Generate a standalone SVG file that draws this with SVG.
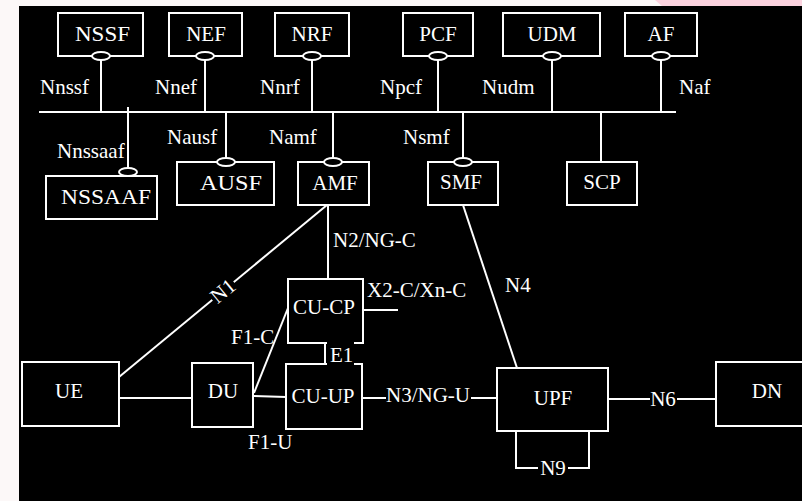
<svg xmlns="http://www.w3.org/2000/svg" width="802" height="501" viewBox="0 0 802 501" font-family="'Liberation Serif', 'DejaVu Serif', Tinos, 'Times New Roman', serif">
<style>
.box{fill:#000;stroke:#fff;stroke-width:2}
.ov{fill:#000;stroke:#fff;stroke-width:2}
.ln{stroke:#fff;stroke-width:2;fill:none}
text{font-family:'Liberation Serif','DejaVu Serif',Tinos,'Times New Roman',serif;font-size:21px;fill:#fff}
.c{text-anchor:middle}
</style>
<rect x="0" y="0" width="802" height="501" fill="#fcf8f8"/>
<polygon points="655,0 802,0 802,6 662,6" fill="#fbd3df"/>
<rect x="19" y="6" width="783" height="495" fill="#000"/>

<g id="connectors">
  <line class="ln" x1="39" y1="112" x2="676" y2="112"/>
  <line class="ln" x1="101" y1="60" x2="101" y2="112"/>
  <line class="ln" x1="205" y1="60" x2="205" y2="112"/>
  <line class="ln" x1="312" y1="60" x2="312" y2="112"/>
  <line class="ln" x1="438" y1="60" x2="438" y2="112"/>
  <line class="ln" x1="552" y1="60" x2="552" y2="112"/>
  <line class="ln" x1="661" y1="60" x2="661" y2="112"/>
  <line class="ln" x1="128" y1="107" x2="128" y2="168"/>
  <line class="ln" x1="226" y1="112" x2="226" y2="158"/>
  <line class="ln" x1="333" y1="112" x2="333" y2="158"/>
  <line class="ln" x1="463" y1="112" x2="463" y2="158"/>
  <line class="ln" x1="601" y1="112" x2="601" y2="162"/>
  <line class="ln" x1="328" y1="205" x2="328" y2="279"/>
  <line class="ln" x1="327" y1="205" x2="119" y2="377"/>
  <line class="ln" x1="463" y1="205" x2="517" y2="368"/>
  <line class="ln" x1="363" y1="310" x2="398" y2="310"/>
  <line class="ln" x1="119" y1="398" x2="192" y2="398"/>
  <line class="ln" x1="253" y1="396" x2="286" y2="397"/>
  <line class="ln" x1="254" y1="393" x2="288" y2="308"/>
  <line class="ln" x1="362" y1="398" x2="386" y2="398"/>
  <line class="ln" x1="471" y1="398" x2="497" y2="398"/>
  <line class="ln" x1="608" y1="399" x2="650" y2="399"/>
  <line class="ln" x1="677" y1="399" x2="716" y2="399"/>
  <polyline class="ln" points="538,468 516,468 516,431"/>
  <polyline class="ln" points="568,468 589,468 589,431"/>
</g>

<g id="NSSF"><rect class="box" x="58" y="13" width="85" height="43"/><text x="75" y="41" textLength="55" lengthAdjust="spacingAndGlyphs">NSSF</text><ellipse class="ov" cx="101" cy="56" rx="9" ry="4"/></g>
<g id="NEF"><rect class="box" x="169" y="13" width="73" height="43"/><text class="c" x="206" y="41">NEF</text><ellipse class="ov" cx="205" cy="56" rx="9" ry="4"/></g>
<g id="NRF"><rect class="box" x="275" y="13" width="74" height="43"/><text class="c" x="312" y="41">NRF</text><ellipse class="ov" cx="312" cy="56" rx="9" ry="4"/></g>
<g id="PCF"><rect class="box" x="403" y="13" width="70" height="43"/><text class="c" x="438" y="41">PCF</text><ellipse class="ov" cx="438" cy="56" rx="9" ry="4"/></g>
<g id="UDM"><rect class="box" x="503" y="13" width="97" height="43"/><text class="c" x="552" y="41">UDM</text><ellipse class="ov" cx="552" cy="56" rx="9" ry="4"/></g>
<g id="AF"><rect class="box" x="625" y="13" width="72" height="43"/><text class="c" x="661" y="41">AF</text><ellipse class="ov" cx="661" cy="56" rx="9" ry="4"/></g>

<g id="NSSAAF"><rect class="box" x="46" y="176" width="111" height="43"/><text x="61" y="204" textLength="90" lengthAdjust="spacingAndGlyphs">NSSAAF</text><ellipse class="ov" cx="128" cy="172" rx="9" ry="4"/></g>
<g id="AUSF"><rect class="box" x="177" y="162" width="97" height="43"/><text x="200" y="190" textLength="62" lengthAdjust="spacingAndGlyphs">AUSF</text><ellipse class="ov" cx="226" cy="162" rx="9" ry="4"/></g>
<g id="AMF"><rect class="box" x="298" y="162" width="71" height="43"/><text class="c" x="335" y="190">AMF</text><ellipse class="ov" cx="333" cy="162" rx="9" ry="4"/></g>
<g id="SMF"><rect class="box" x="428" y="162" width="70" height="43"/><text class="c" x="461" y="189">SMF</text><ellipse class="ov" cx="463" cy="162" rx="9" ry="4"/></g>
<g id="SCP"><rect class="box" x="567" y="162" width="70" height="43"/><text class="c" x="602" y="189">SCP</text></g>

<g id="UE"><rect class="box" x="22" y="362" width="97" height="64"/><text class="c" x="69" y="398">UE</text></g>
<g id="DU"><rect class="box" x="192" y="363" width="61" height="64"/><text class="c" x="223" y="398">DU</text></g>
<g id="CU-CP"><rect class="box" x="288" y="279" width="75" height="64"/><text class="c" x="324" y="314">CU-CP</text></g>
<g id="CU-UP"><rect class="box" x="286" y="364" width="76" height="65"/><text class="c" x="323" y="403">CU-UP</text></g>
<g id="UPF"><rect class="box" x="497" y="368" width="111" height="63"/><text class="c" x="553" y="405">UPF</text></g>
<g id="DN"><rect class="box" x="716" y="362" width="100" height="64"/><text class="c" x="767" y="398">DN</text></g>

<g id="labels">
  <text x="40" y="94">Nnssf</text>
  <text x="155" y="94">Nnef</text>
  <text x="260" y="94">Nnrf</text>
  <text x="380" y="94">Npcf</text>
  <text x="482" y="94">Nudm</text>
  <text x="679" y="94">Naf</text>
  <text x="57" y="158">Nnssaaf</text>
  <text x="167" y="144">Nausf</text>
  <text x="269" y="144">Namf</text>
  <text x="403" y="144">Nsmf</text>
  <text x="333" y="247">N2/NG-C</text>
  <text x="367" y="297">X2-C/Xn-C</text>
  <text x="505" y="292">N4</text>
  <text x="231" y="344">F1-C</text>
  <text x="248" y="449">F1-U</text>
  <text x="386" y="402">N3/NG-U</text>
  <text class="c" x="663" y="406">N6</text>
  <text class="c" x="553" y="475">N9</text>
  <g transform="translate(223,291) rotate(-39.6)">
    <rect x="-14" y="-8" width="28" height="16" fill="#000"/>
    <text class="c" x="0" y="7">N1</text>
  </g>
  <rect x="327" y="339" width="27" height="29" fill="#000"/>
  <line class="ln" x1="325" y1="343" x2="325" y2="364"/>
  <text x="330" y="362">E1</text>
</g>
</svg>
